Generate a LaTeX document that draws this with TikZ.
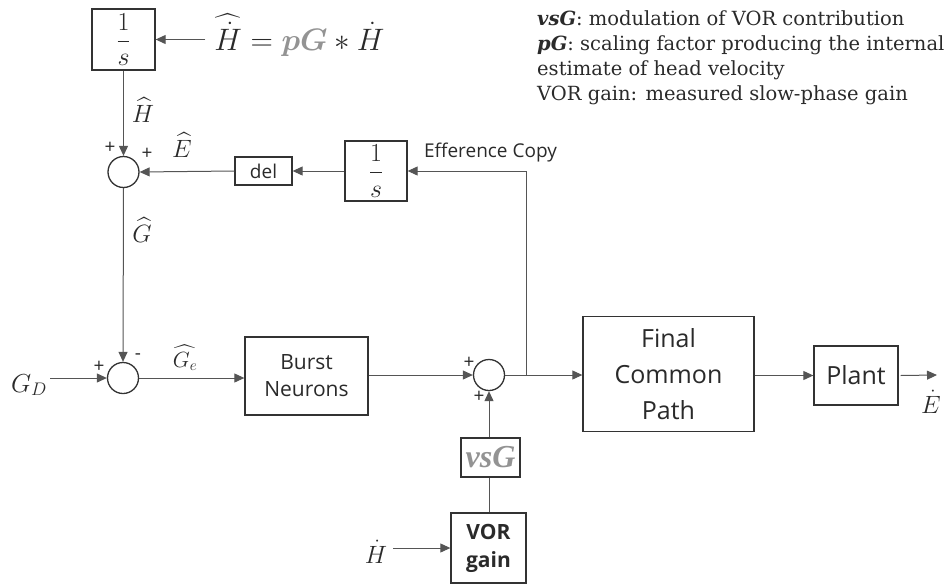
\RequirePackage{fix-cm}
\documentclass[tikz,border=0pt]{standalone}
\usepackage{amsmath}
\usepackage[no-math]{fontspec}
\setmainfont{DejaVu Serif}
\setsansfont{Open Sans}
\newfontfamily\vsgfont{Liberation Serif}
\usetikzlibrary{arrows.meta}
\definecolor{lineC}{HTML}{555555}
\definecolor{boxC}{HTML}{333333}
\definecolor{txtC}{HTML}{2A2A2A}
\definecolor{grayT}{HTML}{939393}
\begin{document}
\begin{tikzpicture}[x=1pt,y=-1pt,
  box/.style={draw=boxC, line width=1.3pt, inner sep=0pt, fill=white, text=txtC},
  sumc/.style={circle, draw=boxC, line width=1.3pt, minimum size=31pt, inner sep=0pt},
  conn/.style={draw=lineC, line width=1pt},
  arr/.style={conn, -{Triangle[length=10pt,width=9pt]}},
  lbl/.style={inner sep=0pt, text=txtC},
  sgn/.style={inner sep=0pt, text=txtC, font=\fontsize{19}{19}\selectfont\sffamily},
  frac/.style={font=\fontsize{26}{26}\selectfont},
  legend/.style={inner sep=0pt, anchor=base west, text=txtC, font=\fontsize{19.5}{19.5}\selectfont}
]
\useasboundingbox (0,0) rectangle (951,584);

% boxes
\node[box, frac, minimum width=63pt, minimum height=61pt] (s1) at (123.5,39.5)
  {$\displaystyle\frac{1}{s}$};
\node[box, frac, minimum width=62pt, minimum height=60pt] (s2) at (376,171)
  {$\displaystyle\frac{1}{s}$};
\node[box, minimum width=57pt, minimum height=28pt, font=\fontsize{19}{19}\selectfont\sffamily] (del) at (263.5,171) {del};
\node[box, minimum width=123pt, minimum height=78pt, align=center, font=\fontsize{21}{27}\selectfont\sffamily] (burst) at (306.5,376) {Burst\\Neurons};
\node[box, minimum width=171pt, minimum height=115pt, align=center, font=\fontsize{25}{36}\selectfont\sffamily] (fcp) at (668.5,374) {Final\\Common\\Path};
\node[box, minimum width=84pt, minimum height=59pt, font=\fontsize{25}{25}\selectfont\sffamily] (plant) at (856,375.5) {Plant};
\node[box, minimum width=59pt, minimum height=39pt, text=grayT, font=\fontsize{32}{32}\selectfont\vsgfont\bfseries\itshape] (vsg) at (490.5,457.5) {vsG};
\node[box, minimum width=75pt, minimum height=70pt, align=center, font=\fontsize{21}{28}\selectfont\sffamily\bfseries] (vor) at (488.5,548) {VOR\\gain};

% summing junctions
\node[sumc] (c1) at (123.5,172) {};
\node[sumc] (c2) at (123,378) {};
\node[sumc] (c3) at (489,375) {};

% formula and labels
\node[lbl, anchor=base, font=\fontsize{31}{31}\selectfont] (formula) at (299.5,50)
  {$\widehat{\dot{H}} = {\color{grayT}\boldsymbol{pG}} * \dot{H}$};
\node[lbl, anchor=base, font=\fontsize{25}{25}\selectfont] (hhat) at (143,122) {$\widehat{H}$};
\node[lbl, anchor=base, font=\fontsize{25}{25}\selectfont] (ehat) at (182,157) {$\widehat{E}$};
\node[lbl, anchor=base, font=\fontsize{25}{25}\selectfont] (ghat) at (142,242) {$\widehat{G}$};
\node[lbl, anchor=base, font=\fontsize{22}{22}\selectfont] (gehat) at (185,367) {$\widehat{G_e}$};
\node[lbl, anchor=base, font=\fontsize{26}{26}\selectfont] (gd) at (29,392) {$G_D$};
\node[lbl, anchor=base, font=\fontsize{25}{25}\selectfont] (edot) at (931,413) {$\dot{E}$};
\node[lbl, anchor=base, font=\fontsize{25}{25}\selectfont] (hdot) at (376,563) {$\dot{H}$};
\node[lbl, anchor=base, font=\fontsize{19}{19}\selectfont\sffamily] (eff) at (490.5,157) {Efference Copy};

% signs
\node[sgn] (p1a) at (110,148) {+};
\node[sgn] (p1b) at (147,154) {+};
\node[sgn] (p2a) at (99,367) {+};
\node[sgn] (m2b) at (138,357) {-};
\node[sgn] (p3a) at (469,363) {+};
\node[sgn] (p3b) at (479,397) {+};

% free ends
\coordinate (gdend) at (50,378);
\coordinate (ec) at (526,375);
\coordinate (outend) at (937,375);
\coordinate (hdend) at (393,548);

% connectors
\draw[arr] ([xshift=-9pt]formula.west |- s1.east) -- (s1.east);
\draw[arr] (s1.south) -- (c1.north);
\draw[arr] (s2.west) -- (del.east);
\draw[arr] (del.west) -- (c1.east);
\draw[arr] (c1.south) -- (c2.north);
\draw[arr] (gdend) -- (c2.west);
\draw[arr] (c2.east) -- (c2.east -| burst.west);
\draw[arr] (burst.east |- c3.west) -- (c3.west);
\draw[arr] (c3.east) -- (fcp.west |- c3.east);
\draw[arr] (ec) |- (s2.east);
\draw[arr] (fcp.east |- plant.west) -- (plant.west);
\draw[arr] ([xshift=2pt]plant.east) -- (outend);
\draw[arr] (vsg.north -| c3.south) -- (c3.south);
\draw[conn] (vor.north -| c3.south) -- (vsg.south -| c3.south);
\draw[arr] (hdend) -- (vor.west |- hdend);

% legend
\node[legend] (l1) at (537,25) {\textbf{\textit{vsG}}: modulation of VOR contribution};
\node[legend] (l2) at (537,50) {\textbf{\textit{pG}}: scaling factor producing the internal};
\node[legend] (l3) at (537,75) {estimate of head velocity};
\node[legend] (l4) at (537,100) {VOR gain: measured slow-phase gain};
\end{tikzpicture}
\end{document}
